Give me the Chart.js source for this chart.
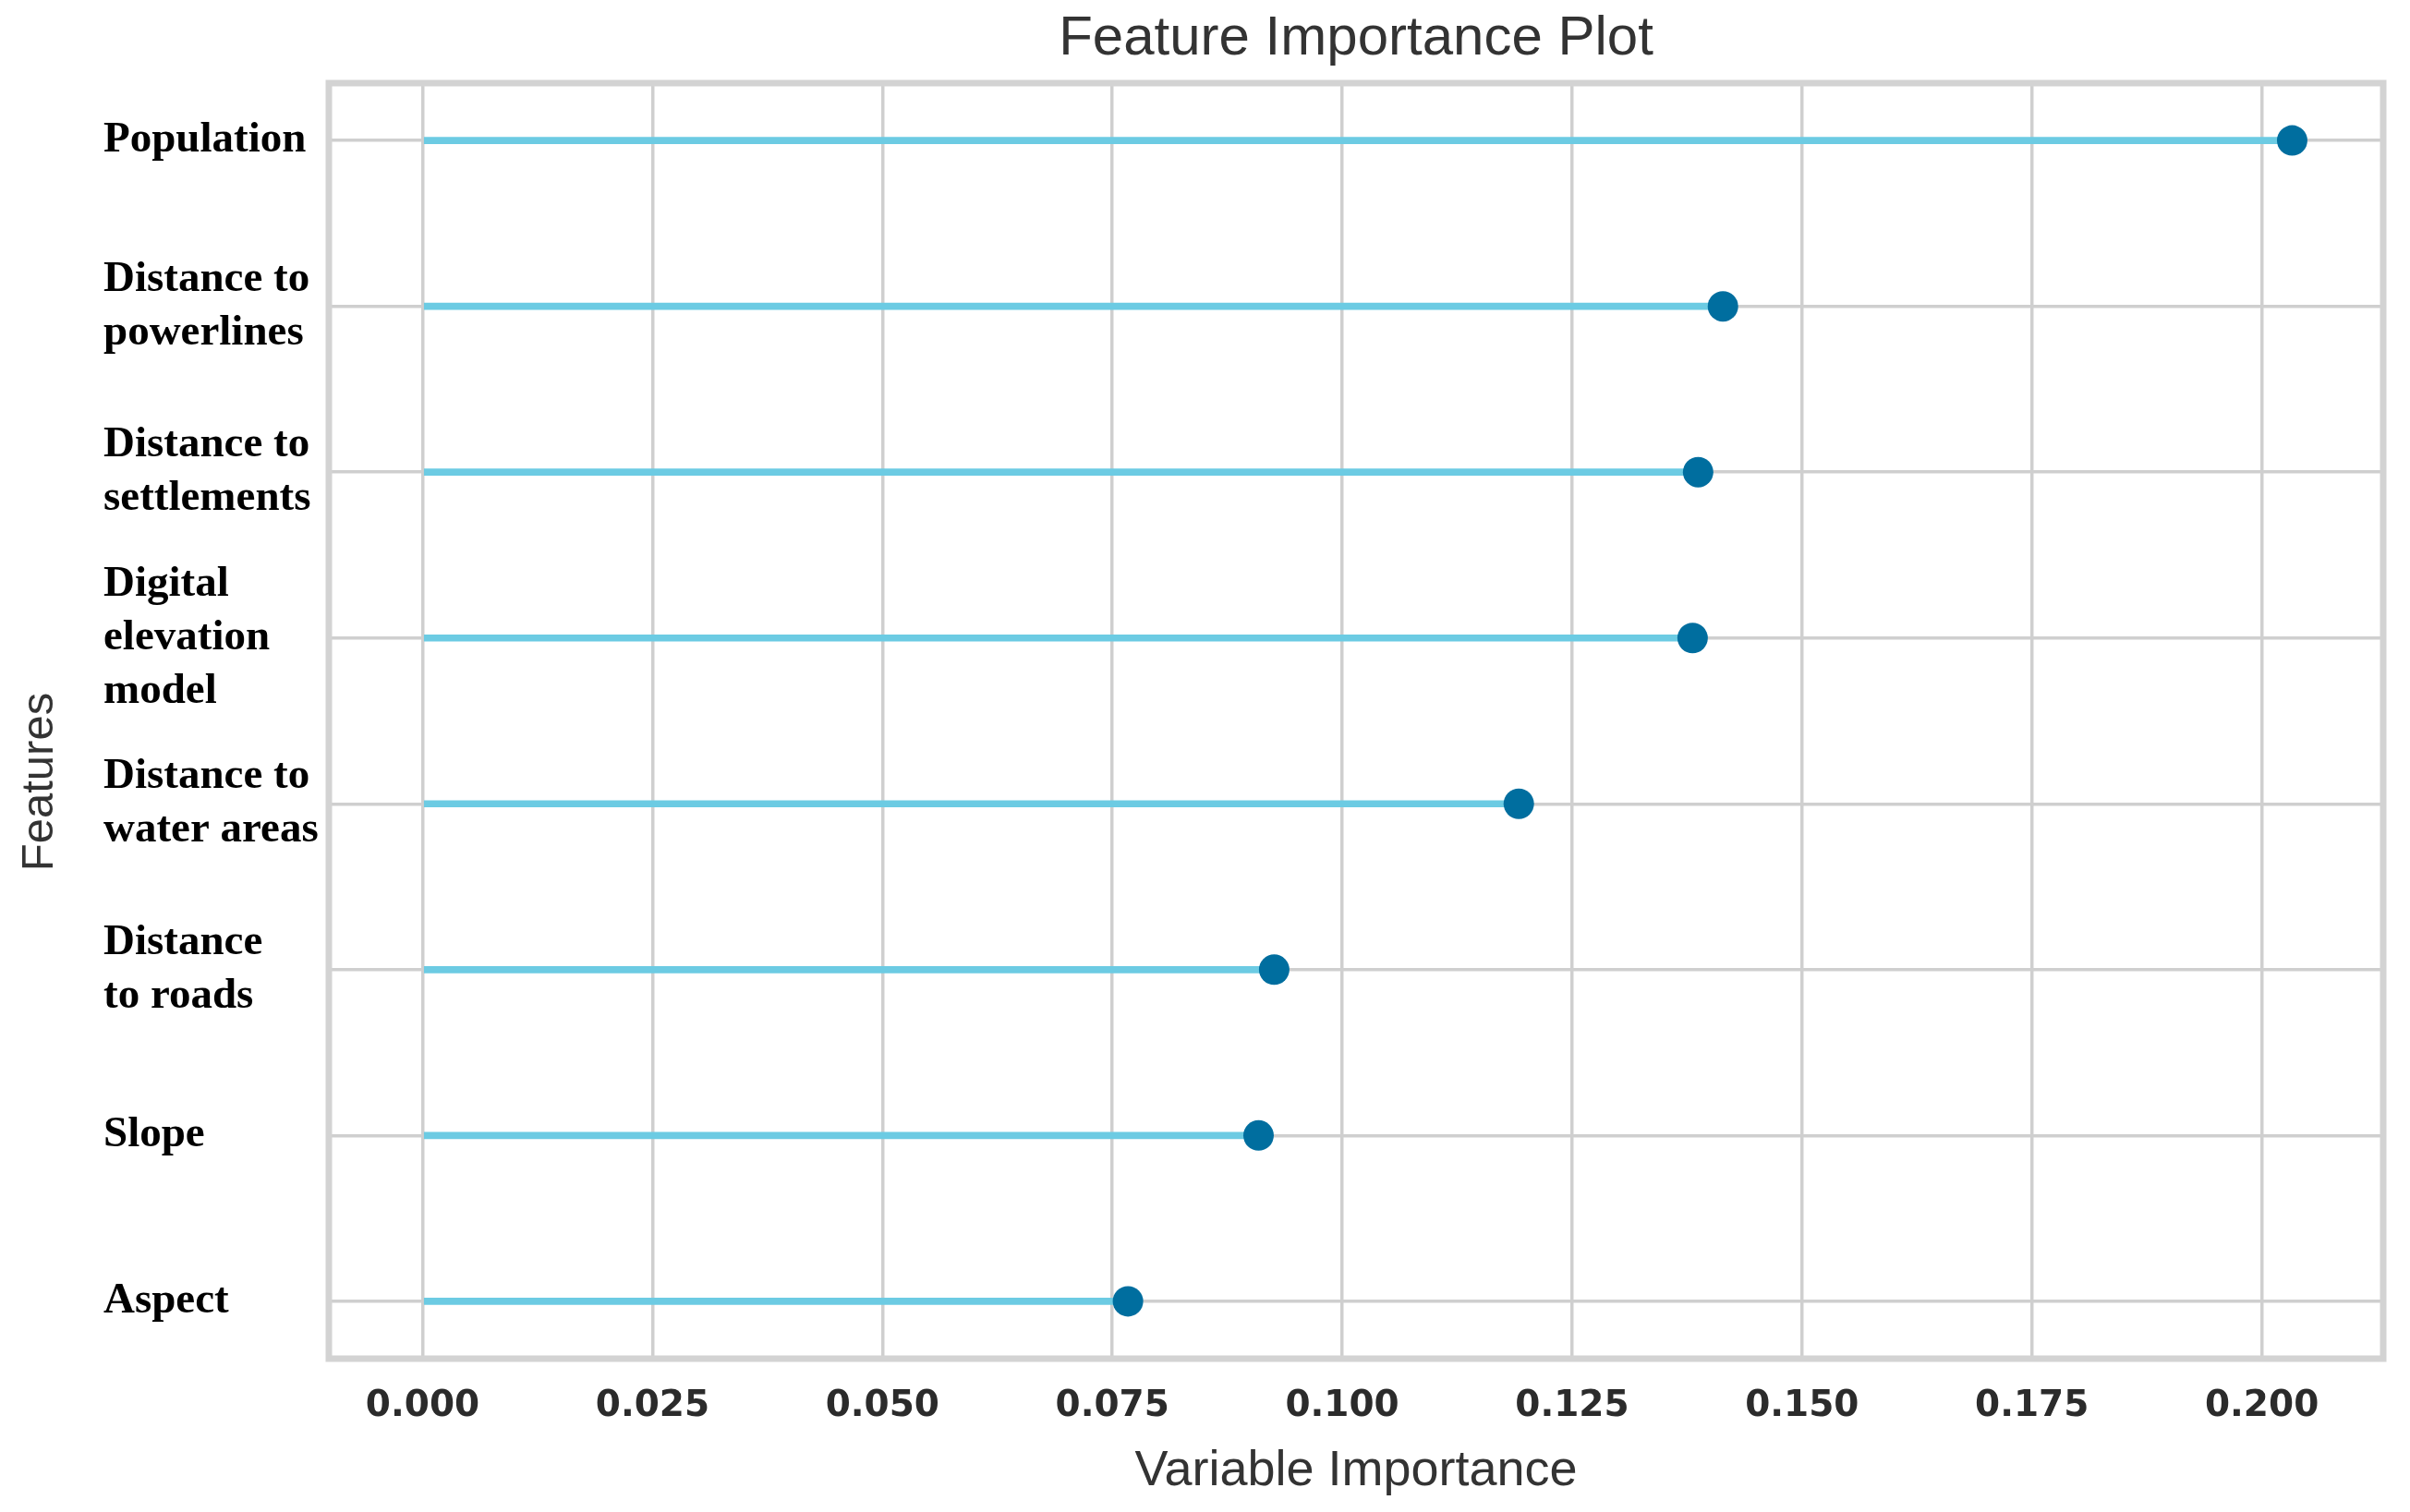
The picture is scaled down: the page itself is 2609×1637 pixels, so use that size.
<!DOCTYPE html>
<html>
<head>
<meta charset="utf-8">
<script src="https://cdn.jsdelivr.net/npm/chart.js@4.4.1/dist/chart.umd.min.js"></script>
<style>
  html, body { margin: 0; padding: 0; background: #ffffff; }
  canvas { display: block; }
</style>
</head>
<body>
<canvas id="chart" width="2609" height="1637"></canvas>
<script>
// Feature names (top to bottom), multi-line like the original figure
const features = [
  ["Population"],
  ["Distance to", "powerlines"],
  ["Distance to", "settlements"],
  ["Digital", "elevation", "model"],
  ["Distance to", "water areas"],
  ["Distance", "to roads"],
  ["Slope"],
  ["Aspect"]
];

// Importance values
const importance = [0.2033, 0.1414, 0.1387, 0.1381, 0.1192, 0.0926, 0.0909, 0.0767];

// x axis tick range
const xMin = -0.0102;
const xMax = 0.2132;
const xStep = 0.025;

const stemColor = "#6ccbe3";
const dotColor = "#006e9f";
const gridColor = "#cfcfcf";
const frameColor = "#d3d3d3";

const points = importance.map((v, i) => ({ x: v, y: i }));

// Draw the light grey box round the plot area
const framePlugin = {
  id: "frame",
  beforeDatasetsDraw(chart) {
    const { ctx, chartArea } = chart;
    ctx.save();
    ctx.strokeStyle = frameColor;
    ctx.lineWidth = 7;
    ctx.strokeRect(chartArea.left, chartArea.top,
      chartArea.right - chartArea.left, chartArea.bottom - chartArea.top);
    ctx.restore();
  }
};

// Rotated "Features" label left of the tick labels
const yTitlePlugin = {
  id: "yTitle",
  afterDraw(chart) {
    const { ctx, chartArea } = chart;
    const yScale = chart.scales.y;
    ctx.save();
    ctx.translate(yScale.left - 69, (chartArea.top + chartArea.bottom) / 2 + 66);
    ctx.rotate(-Math.PI / 2);
    ctx.fillStyle = "#333333";
    ctx.font = "49px 'Liberation Sans', Arial, sans-serif";
    ctx.textAlign = "center";
    ctx.textBaseline = "middle";
    ctx.fillText("Features", 0, 0);
    ctx.restore();
  }
};

new Chart(document.getElementById("chart"), {
  type: "scatter",
  data: {
    datasets: [
      {
        type: "scatter",
        label: "Importance",
        data: points,
        backgroundColor: dotColor,
        borderWidth: 0,
        pointRadius: 16.5,
        pointHoverRadius: 16.5,
        order: 0
      },
      {
        type: "bar",
        label: "Stem",
        indexAxis: "y",
        data: points,
        backgroundColor: stemColor,
        borderWidth: 0,
        barThickness: 7,
        order: 1
      }
    ]
  },
  options: {
    responsive: false,
    animation: false,
    devicePixelRatio: 1,
    layout: { padding: { left: 112, right: 29, top: 0, bottom: 0 } },
    plugins: {
      legend: { display: false },
      tooltip: { enabled: false },
      title: {
        display: true,
        fullSize: false,
        text: "Feature Importance Plot",
        color: "#333333",
        font: { family: "'Liberation Sans', Arial, sans-serif", size: 60, weight: "normal", lineHeight: 1.2 },
        padding: { top: 6, bottom: 12 }
      }
    },
    scales: {
      x: {
        type: "linear",
        min: xMin,
        max: xMax,
        afterFit(scale) { scale.height = 166; },
        border: { display: false },
        grid: { color: gridColor, lineWidth: 3.5, drawTicks: false },
        ticks: {
          stepSize: xStep,
          includeBounds: false,
          padding: 28,
          color: "#2b2b2b",
          font: { family: "'DejaVu Sans', sans-serif", size: 39, weight: "bold", lineHeight: 1.2 },
          callback: (v) => v.toFixed(3)
        },
        title: {
          display: true,
          text: "Variable Importance",
          color: "#333333",
          font: { family: "'Liberation Sans', Arial, sans-serif", size: 54, lineHeight: 1.2 },
          padding: { top: 0, bottom: 11 }
        }
      },
      y: {
        type: "linear",
        reverse: true,
        offset: false,
        min: -0.346,
        max: features.length - 1 + 0.346,
        afterFit(scale) { scale.width = 244; },
        border: { display: false },
        grid: { color: gridColor, lineWidth: 3.5, drawTicks: false, offset: false },
        ticks: {
          stepSize: 1,
          includeBounds: false,
          autoSkip: false,
          crossAlign: "far",
          padding: 0,
          color: "#000000",
          font: { family: "'Liberation Serif', 'Times New Roman', serif", size: 47, weight: "bold", lineHeight: 58 / 47 },
          callback: (v) => features[v] || ""
        }
      }
    }
  },
  plugins: [framePlugin, yTitlePlugin]
});
</script>
</body>
</html>
